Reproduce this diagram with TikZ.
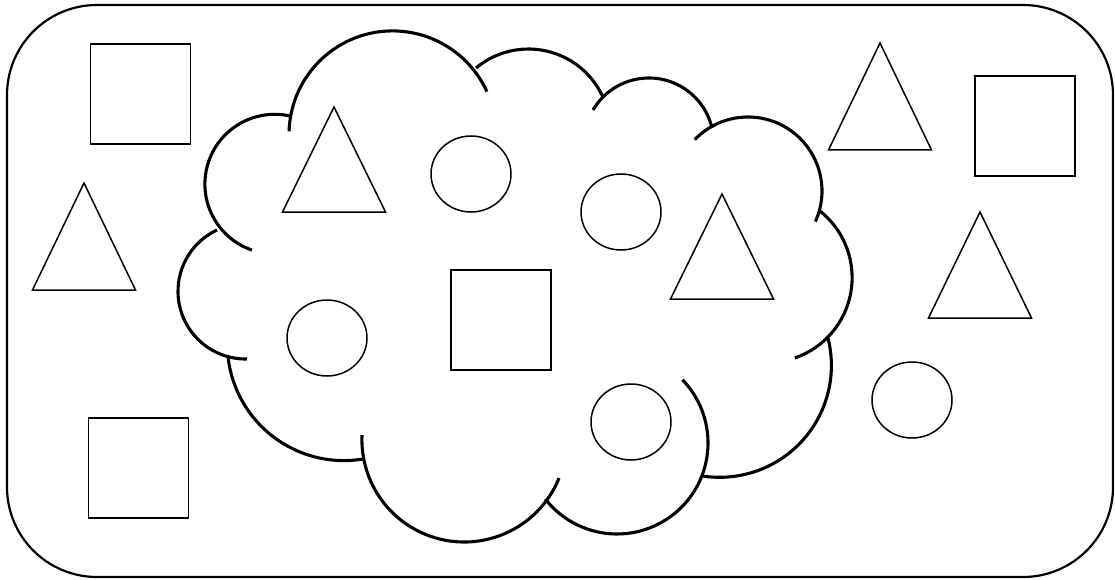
\documentclass[tikz,border=0pt]{standalone}
\usepackage{tikz}
\usetikzlibrary{shapes.geometric, positioning}

\begin{document}
\begin{tikzpicture}[
    x=1pt, y=-1pt,
    frameline/.style={draw, line width=2.2pt, rounded corners=90pt},
    cloudline/.style={draw, line width=3.1pt},
    shapeline/.style={draw, line width=1.5pt},
    sqbox/.style={shapeline, rectangle, minimum size=100pt, inner sep=0pt},
    ovbox/.style={shapeline, ellipse, minimum width=80pt, minimum height=76pt, inner sep=0pt}
]
    \useasboundingbox (0,0) rectangle (1115,580);

    % Outer frame
    \draw[frameline] (7,5) rectangle (1113,577);

    % Cloud, bump by bump
    \draw[cloudline] (274.7,184.1) ++(109:69.8) arc[start angle=109, end angle=282.7, radius=69.8];
    \draw[cloudline] (392.6,134.5) ++(-178.3:103.6) arc[start angle=-178.3, end angle=-24.4, radius=103.6];
    \draw[cloudline] (528.4,130.8) ++(-129.8:81.8) arc[start angle=-129.8, end angle=-24.4, radius=81.8];
    \draw[cloudline] (648.9,142.8) ++(-149.6:64.8) arc[start angle=-149.6, end angle=-13.2, radius=64.8];
    \draw[cloudline] (748,191) ++(-136:74) arc[start angle=-136, end angle=24.5, radius=74];
    \draw[cloudline] (767.1,277.6) ++(-51.5:85) arc[start angle=-51.5, end angle=70.9, radius=85];
    \draw[cloudline] (719.6,365.5) ++(-14.2:111.8) arc[start angle=-14.2, end angle=99, radius=111.8];
    \draw[cloudline] (617,443) ++(-44:91) arc[start angle=-44, end angle=142, radius=91];
    \draw[cloudline] (464.2,439.7) ++(22:102.3) arc[start angle=22, end angle=182.6, radius=102.3];
    \draw[cloudline] (343.9,344) ++(80.6:116.6) arc[start angle=80.6, end angle=174.1, radius=116.6];
    \draw[cloudline] (245.7,291.3) ++(88.9:67.7) arc[start angle=88.9, end angle=245, radius=67.7];

    % Squares
    \node[sqbox] (sqTL) at (140.5,94) {};
    \node[sqbox] (sqBL) at (138.5,468) {};
    \node[sqbox] (sqMid) at (501,320) {};
    \node[sqbox] (sqTR) at (1025,126) {};

    % Circles
    \node[ovbox] (ovA) at (471,174) {};
    \node[ovbox] (ovB) at (621,212) {};
    \node[ovbox] (ovC) at (327,338) {};
    \node[ovbox] (ovD) at (631,422) {};
    \node[ovbox] (ovE) at (912,400) {};

    % Triangles
    \draw[shapeline] (84,183) -- ++(-51.5,107) -- ++(103,0) -- cycle;
    \draw[shapeline] (334,107) -- ++(-51.5,105) -- ++(103,0) -- cycle;
    \draw[shapeline] (722,194) -- ++(-51.5,105) -- ++(103,0) -- cycle;
    \draw[shapeline] (880,43) -- ++(-51.5,107) -- ++(103,0) -- cycle;
    \draw[shapeline] (980,212) -- ++(-51.5,106) -- ++(103,0) -- cycle;

\end{tikzpicture}
\end{document}
